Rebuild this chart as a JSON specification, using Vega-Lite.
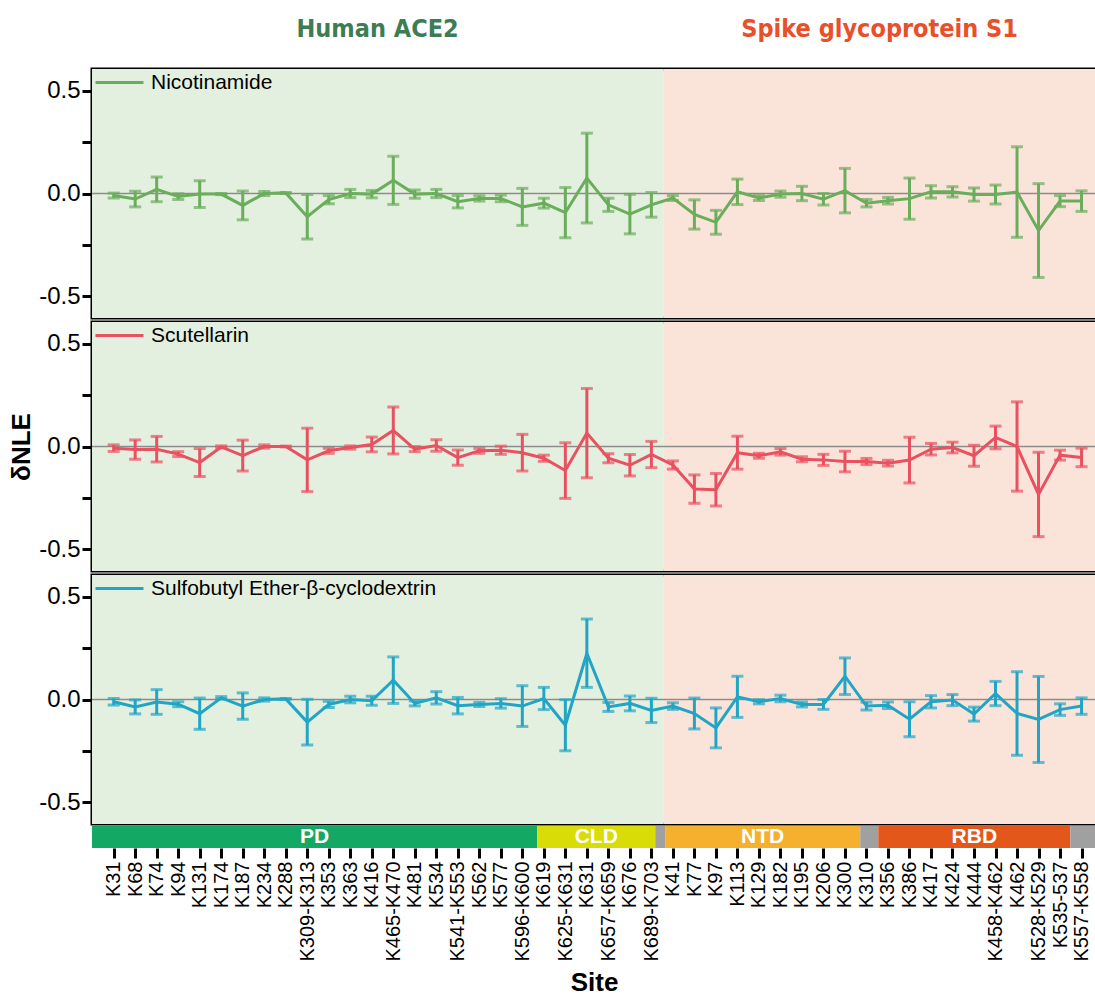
{
  "$schema": "https://vega.github.io/schema/vega-lite/v6.json",
  "padding": {"left": 7, "top": 0, "right": 0, "bottom": 0},
  "background": "white",
  "spacing": 0,
  "config": {
    "font": "Liberation Sans",
    "view": {"stroke": "black", "strokeWidth": 3},
    "axis": {"labelColor": "black", "tickColor": "black", "titleColor": "black", "grid": false, "domain": false}
  },
  "resolve": {"scale": {"x": "independent", "y": "independent", "color": "independent", "fill": "independent"}},
  "datasets": {
    "regions": [
      {"protein": "Human ACE2", "start": -1.008, "end": 25.55},
      {"protein": "Spike glycoprotein S1", "start": 25.55, "end": 45.672}
    ],
    "domains": [
      {"domain": "PD", "start": -1.008, "end": 19.69},
      {"domain": "CLD", "start": 19.69, "end": 25.18},
      {"domain": "linker", "start": 25.18, "end": 25.64},
      {"domain": "NTD", "start": 25.64, "end": 34.71},
      {"domain": "linker", "start": 34.71, "end": 35.55},
      {"domain": "RBD", "start": 35.55, "end": 44.48},
      {"domain": "linker", "start": 44.48, "end": 45.672}
    ],
    "baseline": [{"ref": 0}],
    "measurements": [
      {"site": "K31", "compound": "Nicotinamide", "mean": -0.01, "err": 0.012},
      {"site": "K68", "compound": "Nicotinamide", "mean": -0.027, "err": 0.038},
      {"site": "K74", "compound": "Nicotinamide", "mean": 0.02, "err": 0.06},
      {"site": "K94", "compound": "Nicotinamide", "mean": -0.015, "err": 0.014},
      {"site": "K131", "compound": "Nicotinamide", "mean": -0.003, "err": 0.065},
      {"site": "K174", "compound": "Nicotinamide", "mean": -0.003, "err": 0.003},
      {"site": "K187", "compound": "Nicotinamide", "mean": -0.058, "err": 0.07},
      {"site": "K234", "compound": "Nicotinamide", "mean": 0.0, "err": 0.01},
      {"site": "K288", "compound": "Nicotinamide", "mean": 0.003, "err": 0.002},
      {"site": "K309-K313", "compound": "Nicotinamide", "mean": -0.113, "err": 0.108},
      {"site": "K353", "compound": "Nicotinamide", "mean": -0.03, "err": 0.02},
      {"site": "K363", "compound": "Nicotinamide", "mean": 0.0, "err": 0.02},
      {"site": "K416", "compound": "Nicotinamide", "mean": -0.003, "err": 0.018},
      {"site": "K465-K470", "compound": "Nicotinamide", "mean": 0.064, "err": 0.117},
      {"site": "K481", "compound": "Nicotinamide", "mean": -0.003, "err": 0.02},
      {"site": "K534", "compound": "Nicotinamide", "mean": 0.0, "err": 0.02},
      {"site": "K541-K553", "compound": "Nicotinamide", "mean": -0.04, "err": 0.03},
      {"site": "K562", "compound": "Nicotinamide", "mean": -0.024, "err": 0.013},
      {"site": "K577", "compound": "Nicotinamide", "mean": -0.024, "err": 0.016},
      {"site": "K596-K600", "compound": "Nicotinamide", "mean": -0.065, "err": 0.09},
      {"site": "K619", "compound": "Nicotinamide", "mean": -0.047, "err": 0.024},
      {"site": "K625-K631", "compound": "Nicotinamide", "mean": -0.093, "err": 0.122},
      {"site": "K631", "compound": "Nicotinamide", "mean": 0.075, "err": 0.218},
      {"site": "K657-K659", "compound": "Nicotinamide", "mean": -0.055, "err": 0.032},
      {"site": "K676", "compound": "Nicotinamide", "mean": -0.1, "err": 0.096},
      {"site": "K689-K703", "compound": "Nicotinamide", "mean": -0.055, "err": 0.06},
      {"site": "K41", "compound": "Nicotinamide", "mean": -0.022, "err": 0.012},
      {"site": "K77", "compound": "Nicotinamide", "mean": -0.102, "err": 0.071},
      {"site": "K97", "compound": "Nicotinamide", "mean": -0.14, "err": 0.058},
      {"site": "K113", "compound": "Nicotinamide", "mean": 0.008, "err": 0.062},
      {"site": "K129", "compound": "Nicotinamide", "mean": -0.022, "err": 0.012},
      {"site": "K182", "compound": "Nicotinamide", "mean": -0.003, "err": 0.015},
      {"site": "K195", "compound": "Nicotinamide", "mean": 0.0, "err": 0.035},
      {"site": "K206", "compound": "Nicotinamide", "mean": -0.028, "err": 0.028},
      {"site": "K300", "compound": "Nicotinamide", "mean": 0.014, "err": 0.108},
      {"site": "K310", "compound": "Nicotinamide", "mean": -0.047, "err": 0.018},
      {"site": "K356", "compound": "Nicotinamide", "mean": -0.035, "err": 0.016},
      {"site": "K386", "compound": "Nicotinamide", "mean": -0.025, "err": 0.1},
      {"site": "K417", "compound": "Nicotinamide", "mean": 0.008, "err": 0.03},
      {"site": "K424", "compound": "Nicotinamide", "mean": 0.008, "err": 0.025},
      {"site": "K444", "compound": "Nicotinamide", "mean": -0.005, "err": 0.032},
      {"site": "K458-K462", "compound": "Nicotinamide", "mean": -0.005, "err": 0.046},
      {"site": "K462", "compound": "Nicotinamide", "mean": 0.007, "err": 0.22},
      {"site": "K528-K529", "compound": "Nicotinamide", "mean": -0.18, "err": 0.228},
      {"site": "K535-537", "compound": "Nicotinamide", "mean": -0.037, "err": 0.027},
      {"site": "K557-K558", "compound": "Nicotinamide", "mean": -0.037, "err": 0.05},

      {"site": "K31", "compound": "Scutellarin", "mean": -0.008, "err": 0.016},
      {"site": "K68", "compound": "Scutellarin", "mean": -0.015, "err": 0.047},
      {"site": "K74", "compound": "Scutellarin", "mean": -0.013, "err": 0.062},
      {"site": "K94", "compound": "Scutellarin", "mean": -0.037, "err": 0.012},
      {"site": "K131", "compound": "Scutellarin", "mean": -0.078, "err": 0.068},
      {"site": "K174", "compound": "Scutellarin", "mean": -0.002, "err": 0.005},
      {"site": "K187", "compound": "Scutellarin", "mean": -0.044, "err": 0.075},
      {"site": "K234", "compound": "Scutellarin", "mean": 0.0, "err": 0.008},
      {"site": "K288", "compound": "Scutellarin", "mean": 0.0, "err": 0.002},
      {"site": "K309-K313", "compound": "Scutellarin", "mean": -0.065, "err": 0.154},
      {"site": "K353", "compound": "Scutellarin", "mean": -0.021, "err": 0.012},
      {"site": "K363", "compound": "Scutellarin", "mean": -0.005, "err": 0.008},
      {"site": "K416", "compound": "Scutellarin", "mean": 0.01, "err": 0.036},
      {"site": "K465-K470", "compound": "Scutellarin", "mean": 0.078, "err": 0.114},
      {"site": "K481", "compound": "Scutellarin", "mean": -0.013, "err": 0.012},
      {"site": "K534", "compound": "Scutellarin", "mean": 0.005, "err": 0.028},
      {"site": "K541-K553", "compound": "Scutellarin", "mean": -0.054, "err": 0.037},
      {"site": "K562", "compound": "Scutellarin", "mean": -0.021, "err": 0.012},
      {"site": "K577", "compound": "Scutellarin", "mean": -0.018, "err": 0.02},
      {"site": "K596-K600", "compound": "Scutellarin", "mean": -0.03, "err": 0.089},
      {"site": "K619", "compound": "Scutellarin", "mean": -0.057, "err": 0.015},
      {"site": "K625-K631", "compound": "Scutellarin", "mean": -0.117, "err": 0.135},
      {"site": "K631", "compound": "Scutellarin", "mean": 0.065, "err": 0.217},
      {"site": "K657-K659", "compound": "Scutellarin", "mean": -0.057, "err": 0.022},
      {"site": "K676", "compound": "Scutellarin", "mean": -0.091, "err": 0.052},
      {"site": "K689-K703", "compound": "Scutellarin", "mean": -0.039, "err": 0.064},
      {"site": "K41", "compound": "Scutellarin", "mean": -0.09, "err": 0.02},
      {"site": "K77", "compound": "Scutellarin", "mean": -0.207, "err": 0.069},
      {"site": "K97", "compound": "Scutellarin", "mean": -0.21, "err": 0.079},
      {"site": "K113", "compound": "Scutellarin", "mean": -0.03, "err": 0.08},
      {"site": "K129", "compound": "Scutellarin", "mean": -0.045, "err": 0.012},
      {"site": "K182", "compound": "Scutellarin", "mean": -0.026, "err": 0.016},
      {"site": "K195", "compound": "Scutellarin", "mean": -0.062, "err": 0.012},
      {"site": "K206", "compound": "Scutellarin", "mean": -0.065, "err": 0.027},
      {"site": "K300", "compound": "Scutellarin", "mean": -0.073, "err": 0.05},
      {"site": "K310", "compound": "Scutellarin", "mean": -0.073, "err": 0.015},
      {"site": "K356", "compound": "Scutellarin", "mean": -0.081, "err": 0.014},
      {"site": "K386", "compound": "Scutellarin", "mean": -0.066, "err": 0.111},
      {"site": "K417", "compound": "Scutellarin", "mean": -0.013, "err": 0.028},
      {"site": "K424", "compound": "Scutellarin", "mean": -0.005, "err": 0.026},
      {"site": "K444", "compound": "Scutellarin", "mean": -0.045, "err": 0.051},
      {"site": "K458-K462", "compound": "Scutellarin", "mean": 0.044, "err": 0.055},
      {"site": "K462", "compound": "Scutellarin", "mean": 0.0, "err": 0.217},
      {"site": "K528-K529", "compound": "Scutellarin", "mean": -0.233, "err": 0.205},
      {"site": "K535-537", "compound": "Scutellarin", "mean": -0.042, "err": 0.024},
      {"site": "K557-K558", "compound": "Scutellarin", "mean": -0.053, "err": 0.045},

      {"site": "K31", "compound": "Sulfobutyl Ether-β-cyclodextrin", "mean": -0.011, "err": 0.016},
      {"site": "K68", "compound": "Sulfobutyl Ether-β-cyclodextrin", "mean": -0.036, "err": 0.034},
      {"site": "K74", "compound": "Sulfobutyl Ether-β-cyclodextrin", "mean": -0.012, "err": 0.06},
      {"site": "K94", "compound": "Sulfobutyl Ether-β-cyclodextrin", "mean": -0.023, "err": 0.012},
      {"site": "K131", "compound": "Sulfobutyl Ether-β-cyclodextrin", "mean": -0.069, "err": 0.076},
      {"site": "K174", "compound": "Sulfobutyl Ether-β-cyclodextrin", "mean": 0.008, "err": 0.006},
      {"site": "K187", "compound": "Sulfobutyl Ether-β-cyclodextrin", "mean": -0.032, "err": 0.064},
      {"site": "K234", "compound": "Sulfobutyl Ether-β-cyclodextrin", "mean": 0.0, "err": 0.008},
      {"site": "K288", "compound": "Sulfobutyl Ether-β-cyclodextrin", "mean": 0.003, "err": 0.002},
      {"site": "K309-K313", "compound": "Sulfobutyl Ether-β-cyclodextrin", "mean": -0.11, "err": 0.111},
      {"site": "K353", "compound": "Sulfobutyl Ether-β-cyclodextrin", "mean": -0.024, "err": 0.015},
      {"site": "K363", "compound": "Sulfobutyl Ether-β-cyclodextrin", "mean": 0.0, "err": 0.016},
      {"site": "K416", "compound": "Sulfobutyl Ether-β-cyclodextrin", "mean": -0.006, "err": 0.022},
      {"site": "K465-K470", "compound": "Sulfobutyl Ether-β-cyclodextrin", "mean": 0.094, "err": 0.113},
      {"site": "K481", "compound": "Sulfobutyl Ether-β-cyclodextrin", "mean": -0.019, "err": 0.012},
      {"site": "K534", "compound": "Sulfobutyl Ether-β-cyclodextrin", "mean": 0.008, "err": 0.03},
      {"site": "K541-K553", "compound": "Sulfobutyl Ether-β-cyclodextrin", "mean": -0.03, "err": 0.04},
      {"site": "K562", "compound": "Sulfobutyl Ether-β-cyclodextrin", "mean": -0.024, "err": 0.01},
      {"site": "K577", "compound": "Sulfobutyl Ether-β-cyclodextrin", "mean": -0.019, "err": 0.023},
      {"site": "K596-K600", "compound": "Sulfobutyl Ether-β-cyclodextrin", "mean": -0.032, "err": 0.099},
      {"site": "K619", "compound": "Sulfobutyl Ether-β-cyclodextrin", "mean": 0.005, "err": 0.054},
      {"site": "K625-K631", "compound": "Sulfobutyl Ether-β-cyclodextrin", "mean": -0.125, "err": 0.124},
      {"site": "K631", "compound": "Sulfobutyl Ether-β-cyclodextrin", "mean": 0.225, "err": 0.166},
      {"site": "K657-K659", "compound": "Sulfobutyl Ether-β-cyclodextrin", "mean": -0.036, "err": 0.022},
      {"site": "K676", "compound": "Sulfobutyl Ether-β-cyclodextrin", "mean": -0.019, "err": 0.036},
      {"site": "K689-K703", "compound": "Sulfobutyl Ether-β-cyclodextrin", "mean": -0.053, "err": 0.059},
      {"site": "K41", "compound": "Sulfobutyl Ether-β-cyclodextrin", "mean": -0.032, "err": 0.016},
      {"site": "K77", "compound": "Sulfobutyl Ether-β-cyclodextrin", "mean": -0.068, "err": 0.075},
      {"site": "K97", "compound": "Sulfobutyl Ether-β-cyclodextrin", "mean": -0.138, "err": 0.097},
      {"site": "K113", "compound": "Sulfobutyl Ether-β-cyclodextrin", "mean": 0.013, "err": 0.1},
      {"site": "K129", "compound": "Sulfobutyl Ether-β-cyclodextrin", "mean": -0.011, "err": 0.01},
      {"site": "K182", "compound": "Sulfobutyl Ether-β-cyclodextrin", "mean": 0.005, "err": 0.016},
      {"site": "K195", "compound": "Sulfobutyl Ether-β-cyclodextrin", "mean": -0.024, "err": 0.012},
      {"site": "K206", "compound": "Sulfobutyl Ether-β-cyclodextrin", "mean": -0.024, "err": 0.024},
      {"site": "K300", "compound": "Sulfobutyl Ether-β-cyclodextrin", "mean": 0.113, "err": 0.089},
      {"site": "K310", "compound": "Sulfobutyl Ether-β-cyclodextrin", "mean": -0.032, "err": 0.019},
      {"site": "K356", "compound": "Sulfobutyl Ether-β-cyclodextrin", "mean": -0.028, "err": 0.016},
      {"site": "K386", "compound": "Sulfobutyl Ether-β-cyclodextrin", "mean": -0.096, "err": 0.085},
      {"site": "K417", "compound": "Sulfobutyl Ether-β-cyclodextrin", "mean": -0.011, "err": 0.03},
      {"site": "K424", "compound": "Sulfobutyl Ether-β-cyclodextrin", "mean": -0.003, "err": 0.027},
      {"site": "K444", "compound": "Sulfobutyl Ether-β-cyclodextrin", "mean": -0.071, "err": 0.034},
      {"site": "K458-K462", "compound": "Sulfobutyl Ether-β-cyclodextrin", "mean": 0.029, "err": 0.059},
      {"site": "K462", "compound": "Sulfobutyl Ether-β-cyclodextrin", "mean": -0.068, "err": 0.203},
      {"site": "K528-K529", "compound": "Sulfobutyl Ether-β-cyclodextrin", "mean": -0.097, "err": 0.209},
      {"site": "K535-537", "compound": "Sulfobutyl Ether-β-cyclodextrin", "mean": -0.049, "err": 0.028},
      {"site": "K557-K558", "compound": "Sulfobutyl Ether-β-cyclodextrin", "mean": -0.032, "err": 0.04}
    ]
  },
  "vconcat": [
    {
      "width": 1004, "height": 67,
      "view": {"stroke": null},
      "data": {"name": "regions"},
      "transform": [{"calculate": "(datum.start + datum.end) / 2", "as": "mid"}],
      "mark": {"type": "text", "fontSize": 25, "fontWeight": "bold", "font": "DejaVu Sans Condensed, Liberation Sans, sans-serif", "dy": -5},
      "encoding": {
        "x": {"field": "mid", "type": "quantitative", "scale": {"domain": [-1.008, 45.672], "nice": false, "zero": false}, "axis": null},
        "text": {"field": "protein"},
        "color": {"field": "protein", "type": "nominal", "scale": {"domain": ["Human ACE2", "Spike glycoprotein S1"], "range": ["#3e7c56", "#e8502a"]}, "legend": null}
      }
    },
    {
      "width": 1004, "height": 249,
      "resolve": {"scale": {"x": "independent"}},
      "layer": [
        {"data": {"name": "regions"}, "mark": {"type": "rect"},
          "encoding": {
            "x": {"field": "start", "type": "quantitative", "scale": {"domain": [-1.008, 45.672], "nice": false, "zero": false}, "axis": null},
            "x2": {"field": "end"},
            "fill": {"field": "protein", "type": "nominal", "scale": {"domain": ["Human ACE2", "Spike glycoprotein S1"], "range": ["#e4f0df", "#fae4da"]}, "legend": null}
          }},
        {"data": {"name": "baseline"}, "mark": {"type": "rule", "color": "#8c8c8c", "strokeWidth": 1.5},
          "encoding": {"y": {"field": "ref", "type": "quantitative", "scale": {"domain": [-0.605, 0.605], "nice": false, "zero": false}, "axis": {"values": [-0.5, -0.25, 0, 0.25, 0.5], "labelExpr": "datum.value == 0.5 ? '0.5' : datum.value == 0 ? '0.0' : datum.value == -0.5 ? '-0.5' : ''", "tickSize": 10, "tickWidth": 3, "labelFontSize": 24, "labelPadding": 2, "title": null}}}},
        {"data": {"name": "measurements"}, "transform": [{"filter": "datum.compound == 'Nicotinamide'"}],
          "layer": [
            {"mark": {"type": "errorbar", "ticks": {"size": 12}, "thickness": 3, "color": "#6aad5b"},
              "encoding": {
                "x": {"field": "site", "type": "nominal", "sort": null, "scale": {"type": "point", "padding": 0.84, "align": 0.6}, "axis": null},
                "y": {"field": "mean", "type": "quantitative", "title": null},
                "yError": {"field": "err"}
              }},
            {"mark": {"type": "line", "strokeWidth": 3},
              "encoding": {
                "x": {"field": "site", "type": "nominal", "sort": null, "scale": {"type": "point", "padding": 0.84, "align": 0.6}, "axis": null},
                "y": {"field": "mean", "type": "quantitative", "title": null},
                "color": {"field": "compound", "type": "nominal", "scale": {"domain": ["Nicotinamide"], "range": ["#6aad5b"]},
                  "legend": {"title": null, "orient": "top-left", "offset": 2, "padding": 0, "symbolType": "M-2.4,0H2.4", "symbolSize": 400, "symbolStrokeWidth": 3, "symbolOffset": 14, "labelOffset": 20, "labelFontSize": 21, "labelColor": "black", "labelLimit": 600}}
              }}
          ]}
      ]
    },
    {
      "width": 1004, "height": 249,
      "resolve": {"scale": {"x": "independent"}},
      "layer": [
        {"data": {"name": "regions"}, "mark": {"type": "rect"},
          "encoding": {
            "x": {"field": "start", "type": "quantitative", "scale": {"domain": [-1.008, 45.672], "nice": false, "zero": false}, "axis": null},
            "x2": {"field": "end"},
            "fill": {"field": "protein", "type": "nominal", "scale": {"domain": ["Human ACE2", "Spike glycoprotein S1"], "range": ["#e4f0df", "#fae4da"]}, "legend": null}
          }},
        {"data": {"name": "baseline"}, "mark": {"type": "rule", "color": "#8c8c8c", "strokeWidth": 1.5},
          "encoding": {"y": {"field": "ref", "type": "quantitative", "scale": {"domain": [-0.605, 0.605], "nice": false, "zero": false}, "axis": {"values": [-0.5, -0.25, 0, 0.25, 0.5], "labelExpr": "datum.value == 0.5 ? '0.5' : datum.value == 0 ? '0.0' : datum.value == -0.5 ? '-0.5' : ''", "tickSize": 10, "tickWidth": 3, "labelFontSize": 24, "labelPadding": 2, "title": "δNLE", "titleFontSize": 26, "titleFontWeight": "bold", "titlePadding": 4}}}},
        {"data": {"name": "measurements"}, "transform": [{"filter": "datum.compound == 'Scutellarin'"}],
          "layer": [
            {"mark": {"type": "errorbar", "ticks": {"size": 12}, "thickness": 3, "color": "#e95060"},
              "encoding": {
                "x": {"field": "site", "type": "nominal", "sort": null, "scale": {"type": "point", "padding": 0.84, "align": 0.6}, "axis": null},
                "y": {"field": "mean", "type": "quantitative", "title": "δNLE"},
                "yError": {"field": "err"}
              }},
            {"mark": {"type": "line", "strokeWidth": 3},
              "encoding": {
                "x": {"field": "site", "type": "nominal", "sort": null, "scale": {"type": "point", "padding": 0.84, "align": 0.6}, "axis": null},
                "y": {"field": "mean", "type": "quantitative", "title": "δNLE"},
                "color": {"field": "compound", "type": "nominal", "scale": {"domain": ["Scutellarin"], "range": ["#e95060"]},
                  "legend": {"title": null, "orient": "top-left", "offset": 2, "padding": 0, "symbolType": "M-2.4,0H2.4", "symbolSize": 400, "symbolStrokeWidth": 3, "symbolOffset": 14, "labelOffset": 20, "labelFontSize": 21, "labelColor": "black", "labelLimit": 600}}
              }}
          ]}
      ]
    },
    {
      "width": 1004, "height": 249,
      "resolve": {"scale": {"x": "independent"}},
      "layer": [
        {"data": {"name": "regions"}, "mark": {"type": "rect"},
          "encoding": {
            "x": {"field": "start", "type": "quantitative", "scale": {"domain": [-1.008, 45.672], "nice": false, "zero": false}, "axis": null},
            "x2": {"field": "end"},
            "fill": {"field": "protein", "type": "nominal", "scale": {"domain": ["Human ACE2", "Spike glycoprotein S1"], "range": ["#e4f0df", "#fae4da"]}, "legend": null}
          }},
        {"data": {"name": "baseline"}, "mark": {"type": "rule", "color": "#8c8c8c", "strokeWidth": 1.5},
          "encoding": {"y": {"field": "ref", "type": "quantitative", "scale": {"domain": [-0.605, 0.605], "nice": false, "zero": false}, "axis": {"values": [-0.5, -0.25, 0, 0.25, 0.5], "labelExpr": "datum.value == 0.5 ? '0.5' : datum.value == 0 ? '0.0' : datum.value == -0.5 ? '-0.5' : ''", "tickSize": 10, "tickWidth": 3, "labelFontSize": 24, "labelPadding": 2, "title": null}}}},
        {"data": {"name": "measurements"}, "transform": [{"filter": "datum.compound == 'Sulfobutyl Ether-β-cyclodextrin'"}],
          "layer": [
            {"mark": {"type": "errorbar", "ticks": {"size": 12}, "thickness": 3, "color": "#22a5c4"},
              "encoding": {
                "x": {"field": "site", "type": "nominal", "sort": null, "scale": {"type": "point", "padding": 0.84, "align": 0.6}, "axis": null},
                "y": {"field": "mean", "type": "quantitative", "title": null},
                "yError": {"field": "err"}
              }},
            {"mark": {"type": "line", "strokeWidth": 3},
              "encoding": {
                "x": {"field": "site", "type": "nominal", "sort": null, "scale": {"type": "point", "padding": 0.84, "align": 0.6}, "axis": null},
                "y": {"field": "mean", "type": "quantitative", "title": null},
                "color": {"field": "compound", "type": "nominal", "scale": {"domain": ["Sulfobutyl Ether-β-cyclodextrin"], "range": ["#22a5c4"]},
                  "legend": {"title": null, "orient": "top-left", "offset": 2, "padding": 0, "symbolType": "M-2.4,0H2.4", "symbolSize": 400, "symbolStrokeWidth": 3, "symbolOffset": 14, "labelOffset": 20, "labelFontSize": 21, "labelColor": "black", "labelLimit": 600}}
              }}
          ]}
      ]
    },
    {
      "width": 1004, "height": 22,
      "view": {"stroke": null},
      "resolve": {"scale": {"x": "independent"}},
      "layer": [
        {"data": {"name": "domains"}, "mark": {"type": "rect"},
          "encoding": {
            "x": {"field": "start", "type": "quantitative", "scale": {"domain": [-1.008, 45.672], "nice": false, "zero": false}, "axis": null},
            "x2": {"field": "end"},
            "fill": {"field": "domain", "type": "nominal", "scale": {"domain": ["PD", "CLD", "NTD", "RBD", "linker"], "range": ["#13a864", "#d9dc06", "#f5b02d", "#e4571b", "#a0a0a0"]}, "legend": null}
          }},
        {"data": {"name": "domains"}, "transform": [{"filter": "datum.domain != 'linker'"}, {"calculate": "(datum.start + datum.end) / 2", "as": "mid"}],
          "mark": {"type": "text", "color": "white", "fontWeight": "bold", "fontSize": 21},
          "encoding": {
            "x": {"field": "mid", "type": "quantitative", "scale": {"domain": [-1.008, 45.672], "nice": false, "zero": false}, "axis": null},
            "text": {"field": "domain"}
          }},
        {"data": {"name": "measurements"}, "transform": [{"filter": "datum.compound == 'Nicotinamide'"}],
          "mark": {"type": "tick", "opacity": 0},
          "encoding": {
            "x": {"field": "site", "type": "nominal", "sort": null, "scale": {"type": "point", "padding": 0.84, "align": 0.6},
              "axis": {"orient": "bottom", "labelAngle": -90, "labelFontSize": 20, "tickSize": 10, "tickWidth": 3, "labelPadding": 3, "labelOverlap": false, "title": "Site", "titleFontSize": 26, "titleFontWeight": "bold", "titlePadding": 8}}
          }}
      ]
    }
  ]
}
